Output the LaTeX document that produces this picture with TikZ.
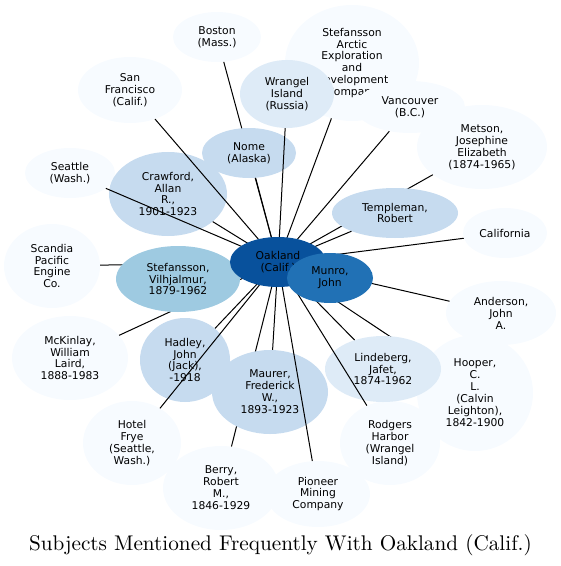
\documentclass[tikz,border=0pt]{standalone}
\usepackage{fontspec}
\newfontfamily\labelfont{DejaVu Sans}
\usetikzlibrary{shapes.geometric}
\definecolor{blueA}{HTML}{F7FBFF}
\definecolor{blueB}{HTML}{DEEBF7}
\definecolor{blueC}{HTML}{C6DBEF}
\definecolor{blueD}{HTML}{9ECAE1}
\definecolor{blueF}{HTML}{2171B5}
\definecolor{blueG}{HTML}{08519C}
\begin{document}
\begin{tikzpicture}[x=1bp, y=-1bp,
  subj/.style={ellipse, inner sep=0pt, align=center, font=\labelfont\fontsize{10.8}{12}\selectfont},
  sz/.style 2 args={minimum width=#1bp, minimum height=#2bp},
  link/.style={line width=1bp}]
\useasboundingbox (0,0) rectangle (561,566);
\coordinate (c) at (278,262);

\node[subj, fill=blueA, sz={134}{116}] (arctic) at (352,63) {Stefansson\\Arctic\\Exploration\\and\\Development\\Company};
\node[subj, fill=blueA, sz={88}{50}] (boston) at (217,37) {Boston\\(Mass.)};
\node[subj, fill=blueA, sz={104}{66}] (sanfran) at (130,90) {San\\Francisco\\(Calif.)};
\node[subj, fill=blueA, sz={90}{50}] (seattle) at (70,173) {Seattle\\(Wash.)};
\node[subj, fill=blueA, sz={96}{84}] (scandia) at (52,266) {Scandia\\Pacific\\Engine\\Co.};
\node[subj, fill=blueA, sz={116}{84}] (mckinlay) at (70,358) {McKinlay,\\William\\Laird,\\1888-1983};
\node[subj, fill=blueA, sz={98}{84}] (frye) at (132,443) {Hotel\\Frye\\(Seattle,\\Wash.)};
\node[subj, fill=blueA, sz={116}{84}] (berry) at (221,488) {Berry,\\Robert\\M.,\\1846-1929};
\node[subj, fill=blueA, sz={104}{66}] (pioneer) at (318,494) {Pioneer\\Mining\\Company};
\node[subj, fill=blueA, sz={100}{84}] (rodgers) at (390,443) {Rodgers\\Harbor\\(Wrangel\\Island)};
\node[subj, fill=blueA, sz={116}{116}] (hooper) at (475,393) {Hooper,\\C.\\L.\\(Calvin\\Leighton),\\1842-1900};
\node[subj, fill=blueA, sz={110}{64}] (anderson) at (501,313) {Anderson,\\John\\A.};
\node[subj, fill=blueA, sz={84}{50}] (california) at (505,233) {California};
\node[subj, fill=blueA, sz={130}{84}] (metson) at (482,147) {Metson,\\Josephine\\Elizabeth\\(1874-1965)};
\node[subj, fill=blueA, sz={110}{52}] (vancouver) at (410,107) {Vancouver\\(B.C.)};
\node[subj, fill=blueB, sz={94}{68}] (wrangel) at (287,94) {Wrangel\\Island\\(Russia)};

\draw[link] (c) -- (boston);
\draw[link] (c) -- (berry);
\draw[link] (c) -- (metson);
\draw[link] (c) -- (scandia);
\draw[link] (c) -- (mckinlay);
\draw[link] (c) -- (hooper);
\draw[link] (c) -- (anderson);

\node[subj, fill=blueC, sz={94}{50}] (nome) at (249,153) {Nome\\(Alaska)};
\node[subj, fill=blueC, sz={118}{84}] (crawford) at (168,194) {Crawford,\\Allan\\R.,\\1901-1923};
\node[subj, fill=blueC, sz={90}{84}] (hadley) at (185,360) {Hadley,\\John\\(Jack),\\-1918};
\node[subj, fill=blueC, sz={116}{84}] (maurer) at (270,392) {Maurer,\\Frederick\\W.,\\1893-1923};
\node[subj, fill=blueC, sz={126}{50}] (templeman) at (395,213) {Templeman,\\Robert};
\node[subj, fill=blueB, sz={116}{66}] (lindeberg) at (383,369) {Lindeberg,\\Jafet,\\1874-1962};
\node[subj, fill=blueD, sz={124}{66}] (stefv) at (178,279) {Stefansson,\\Vilhjalmur,\\1879-1962};

\draw[link] (c) -- (seattle);
\draw[link] (c) -- (sanfran);
\draw[link] (c) -- (frye);
\draw[link] (c) -- (pioneer);
\draw[link] (c) -- (wrangel);
\draw[link] (c) -- (nome);
\draw[link] (c) -- (arctic);
\draw[link] (c) -- (vancouver);
\draw[link] (c) -- (templeman);
\draw[link] (c) -- (california);
\draw[link] (c) -- (crawford);
\draw[link] (c) -- (hadley);
\draw[link] (c) -- (maurer);
\draw[link] (c) -- (lindeberg);
\draw[link] (c) -- (rodgers);
\draw[link] (c) -- (stefv);

\node[subj, fill=blueG, sz={96}{50}] (oakland) at (c) {Oakland\\(Calif.)};
\node[subj, fill=blueF, sz={86}{50}] (munro) at (330,278) {Munro,\\John};

\node[anchor=base, inner sep=0pt] (title) at (280.5,550) {\scalebox{2.13}{Subjects Mentioned Frequently With Oakland (Calif.)}};
\end{tikzpicture}
\end{document}
